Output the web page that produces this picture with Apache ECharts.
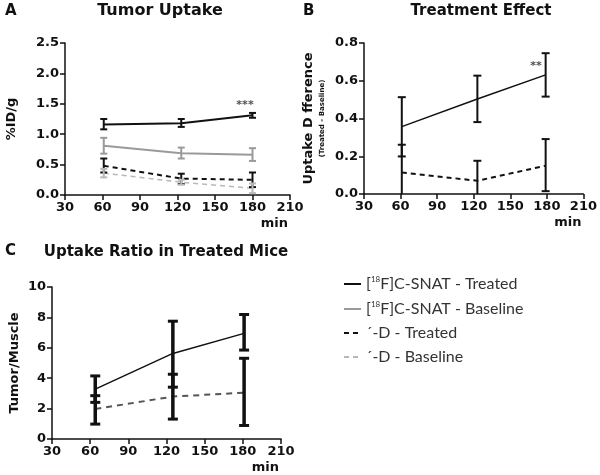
<!DOCTYPE html>
<html><head><meta charset="utf-8">
<script src="https://cdn.jsdelivr.net/npm/echarts@6/dist/echarts.min.js"></script>
<style>html,body{margin:0;padding:0;background:#fff}#c{width:600px;height:475px}</style>
</head><body><div id="c"></div>
<script>
// ---- data ----
var legendNames = ['[18F]C-SNAT - Treated', '[18F]C-SNAT - Baseline', '\u00b4-D - Treated', '\u00b4-D - Baseline'];
var panelTitles = ['Tumor Uptake', 'Treatment Effect', 'Uptake Ratio in Treated Mice'];
var panelLetters = ['A', 'B', 'C'];

var timesA = [61, 123, 180];
var csnatTreatedA = [1.16, 1.18, 1.31];
var csnatTreatedALo = [1.08, 1.12, 1.27];
var csnatTreatedAHi = [1.25, 1.25, 1.35];
var csnatBaseA = [0.81, 0.685, 0.66];
var csnatBaseALo = [0.68, 0.60, 0.56];
var csnatBaseAHi = [0.94, 0.78, 0.77];
var dTreatedA = [0.48, 0.27, 0.25];
var dTreatedALo = [0.37, 0.18, 0.13];
var dTreatedAHi = [0.60, 0.35, 0.37];
var dBaseA = [0.36, 0.21, 0.11];
var dBaseALo = [0.29, 0.17, 0.03];
var dBaseAHi = [0.43, 0.25, 0.19];
var sigA = [[174, 1.47, '***']];

var timesB = [61, 123, 179];
var csnatDiffB = [0.357, 0.503, 0.631];
var csnatDiffBLo = [0.199, 0.381, 0.516];
var csnatDiffBHi = [0.513, 0.627, 0.746];
var dDiffB = [0.114, 0.07, 0.15];
var dDiffBLo = [-0.033, -0.036, 0.015];
var dDiffBHi = [0.261, 0.176, 0.291];
var sigB = [[171, 0.675, '**']];

var timesC = [64, 125, 181];
var ratioTreatedC = [3.28, 5.63, 6.95];
var ratioTreatedCLo = [2.41, 3.41, 5.85];
var ratioTreatedCHi = [4.15, 7.75, 8.19];
var ratioDC = [1.97, 2.79, 3.05];
var ratioDCLo = [0.98, 1.31, 0.89];
var ratioDCHi = [2.85, 4.26, 5.31];

var xMin = 30, xMax = 210, xStep = 30;
var yA = [0, 2.5, 0.5], yB = [0, 0.8, 0.2], yC = [0, 10, 2];

// ---- helpers ----
function pts(xs, ys) { return xs.map(function (x, i) { return [x, ys[i]]; }); }
function errs(xs, lo, hi) { return xs.map(function (x, i) { return [x, lo[i], hi[i]]; }); }
function errRender(capHalf, lw, capW, color) {
  return function (params, api) {
    var x = api.value(0), lo = api.value(1), hi = api.value(2);
    var cs = params.coordSys;
    var top = api.coord([x, hi]), bot = api.coord([x, lo]);
    var yMinP = cs.y, yMaxP = cs.y + cs.height;
    var t = Math.max(top[1], yMinP), b = Math.min(bot[1], yMaxP);
    var ch = [{ type: 'line', shape: { x1: top[0], y1: t, x2: top[0], y2: b }, style: { stroke: color, lineWidth: lw } }];
    if (top[1] >= yMinP) ch.push({ type: 'line', shape: { x1: top[0] - capHalf, y1: top[1], x2: top[0] + capHalf, y2: top[1] }, style: { stroke: color, lineWidth: capW } });
    if (bot[1] <= yMaxP) ch.push({ type: 'line', shape: { x1: bot[0] - capHalf, y1: bot[1], x2: bot[0] + capHalf, y2: bot[1] }, style: { stroke: color, lineWidth: capW } });
    return { type: 'group', children: ch };
  };
}
var tickFont = { fontFamily: 'DejaVu Sans', fontWeight: 'bold', fontSize: 13, color: '#111' };
function xAxis(gi) {
  return {
    type: 'value', gridIndex: gi, min: xMin, max: xMax, interval: xStep,
    name: 'min', nameLocation: 'end', nameGap: -2,
    nameTextStyle: { fontFamily: 'DejaVu Sans', fontWeight: 'bold', fontSize: 13, color: '#111', align: 'right', verticalAlign: 'top', padding: [22, 0, 0, 0] },
    axisLine: { lineStyle: { color: '#111', width: 1.5 } },
    axisTick: { show: true, length: 5, lineStyle: { color: '#111', width: 1.5 } },
    axisLabel: Object.assign({ margin: 6 }, tickFont),
    splitLine: { show: false }
  };
}
function yAxis(gi, r, dec, name, gap, rich) {
  var o = {
    type: 'value', gridIndex: gi, min: r[0], max: r[1], interval: r[2],
    name: name, nameLocation: 'middle', nameGap: gap,
    nameTextStyle: { fontFamily: 'DejaVu Sans', fontWeight: 'bold', fontSize: 13, color: '#111' },
    axisLine: { show: true, lineStyle: { color: '#111', width: 1.5 } },
    axisTick: { show: true, length: 5, lineStyle: { color: '#111', width: 1.5 } },
    axisLabel: Object.assign({ margin: 6, formatter: function (v) { return v.toFixed(dec); } }, tickFont),
    splitLine: { show: false }
  };
  if (rich) o.nameTextStyle.rich = rich;
  return o;
}
function lineS(name, gi, xs, ys, color, w, dash) {
  return {
    type: 'line', name: name, xAxisIndex: gi, yAxisIndex: gi, data: pts(xs, ys),
    symbol: 'none', showSymbol: false, silent: true, z: 3,
    lineStyle: { color: color, width: w, type: dash || 'solid' }, itemStyle: { color: color }
  };
}
function errS(gi, xs, lo, hi, color, capHalf, lw, capW) {
  return {
    type: 'custom', xAxisIndex: gi, yAxisIndex: gi, data: errs(xs, lo, hi), silent: true, z: 4,
    encode: { x: 0, y: [1, 2] }, renderItem: errRender(capHalf, lw, capW, color)
  };
}
function sigS(gi, arr) {
  return {
    type: 'scatter', xAxisIndex: gi, yAxisIndex: gi, data: arr.map(function (a) { return [a[0], a[1], a[2]]; }),
    symbolSize: 1, itemStyle: { color: 'rgba(0,0,0,0)' }, silent: true,
    label: { show: true, position: 'inside', formatter: function (p) { return p.value[2]; }, fontFamily: 'DejaVu Sans', fontWeight: 'bold', fontSize: 11, color: '#222' }
  };
}

var black = '#111', grey = '#9a9a9a', lgrey = '#b8b8b8', dgrey = '#555';
var option = {
  animation: false,
  backgroundColor: '#fff',
  grid: [
    { left: 65, top: 43, width: 225, height: 152 },
    { left: 364, top: 43, width: 228, height: 151 },
    { left: 52, top: 287, width: 229, height: 152 }
  ],
  xAxis: [xAxis(0), xAxis(1), xAxis(2)],
  yAxis: [
    yAxis(0, yA, 1, '%ID/g', 47),
    yAxis(1, yB, 1, '{a|Uptake D fference}\n{b|(Treated - Baseline)}', 37, {
      a: { fontFamily: 'DejaVu Sans', fontWeight: 'bold', fontSize: 13, color: '#111', lineHeight: 16 },
      b: { fontFamily: 'DejaVu Sans', fontWeight: 'bold', fontSize: 7, color: '#111', lineHeight: 10 }
    }),
    yAxis(2, yC, 0, 'Tumor/Muscle', 31)
  ],
  legend: {
    data: legendNames, orient: 'vertical', left: 338, top: 270, itemWidth: 17, itemHeight: 10, itemGap: 8,
    selectedMode: false,
    itemStyle: { opacity: 0, borderWidth: 0 },
    formatter: function (n) {
      return n.indexOf('[18F]') === 0 ? '{t|[}{s|18}{t|' + n.slice(3) + '}' : '{t|' + n + '}';
    },
    textStyle: {
      fontFamily: 'Lato', fontSize: 16, color: '#333',
      rich: { t: { fontFamily: 'Lato', fontSize: 16, color: '#333', lineHeight: 18 }, s: { fontFamily: 'Lato', fontSize: 8, color: '#333', verticalAlign: 'top', lineHeight: 18 } }
    }
  },
  graphic: [
    { type: 'text', x: 5, y: 4, style: { text: panelLetters[0], font: 'bold 15px "DejaVu Sans"', fill: '#111' } },
    { type: 'text', x: 160, y: 11, style: { text: panelTitles[0], font: 'bold 16px "DejaVu Sans"', fill: '#111', align: 'center', verticalAlign: 'middle' } },
    { type: 'text', x: 303, y: 4, style: { text: panelLetters[1], font: 'bold 15px "DejaVu Sans"', fill: '#111' } },
    { type: 'text', x: 481, y: 11, style: { text: panelTitles[1], font: 'bold 15px "DejaVu Sans"', fill: '#111', align: 'center', verticalAlign: 'middle' } },
    { type: 'text', x: 5, y: 244, style: { text: panelLetters[2], font: 'bold 15px "DejaVu Sans"', fill: '#111' } },
    { type: 'text', x: 166, y: 252, style: { text: panelTitles[2], font: 'bold 15px "DejaVu Sans"', fill: '#111', align: 'center', verticalAlign: 'middle' } }
  ],
  series: [
    lineS(legendNames[0], 0, timesA, csnatTreatedA, black, 2),
    lineS(legendNames[1], 0, timesA, csnatBaseA, grey, 2),
    lineS(legendNames[2], 0, timesA, dTreatedA, black, 2, [5, 4]),
    lineS(legendNames[3], 0, timesA, dBaseA, lgrey, 1.5, [5, 4]),
    errS(0, timesA, csnatTreatedALo, csnatTreatedAHi, black, 3.5, 2, 2),
    errS(0, timesA, csnatBaseALo, csnatBaseAHi, grey, 3.5, 2, 2),
    errS(0, timesA, dTreatedALo, dTreatedAHi, black, 3.5, 2, 2),
    errS(0, timesA, dBaseALo, dBaseAHi, lgrey, 3.5, 2, 2),
    sigS(0, sigA),

    lineS('C-SNAT difference', 1, timesB, csnatDiffB, black, 1.5),
    lineS('D difference', 1, timesB, dDiffB, black, 2, [5, 4]),
    errS(1, timesB, csnatDiffBLo, csnatDiffBHi, black, 4, 2, 2),
    errS(1, timesB, dDiffBLo, dDiffBHi, black, 4, 2, 2),
    sigS(1, sigB),

    lineS('C-SNAT ratio', 2, timesC, ratioTreatedC, black, 1.5),
    lineS('D ratio', 2, timesC, ratioDC, dgrey, 2, [6, 5]),
    errS(2, timesC, ratioTreatedCLo, ratioTreatedCHi, black, 5, 3.5, 3),
    errS(2, timesC, ratioDCLo, ratioDCHi, black, 5, 3.5, 3)
  ]
};
var chart = echarts.init(document.getElementById('c'), null, { renderer: 'canvas' });
chart.setOption(option);
</script></body></html>
